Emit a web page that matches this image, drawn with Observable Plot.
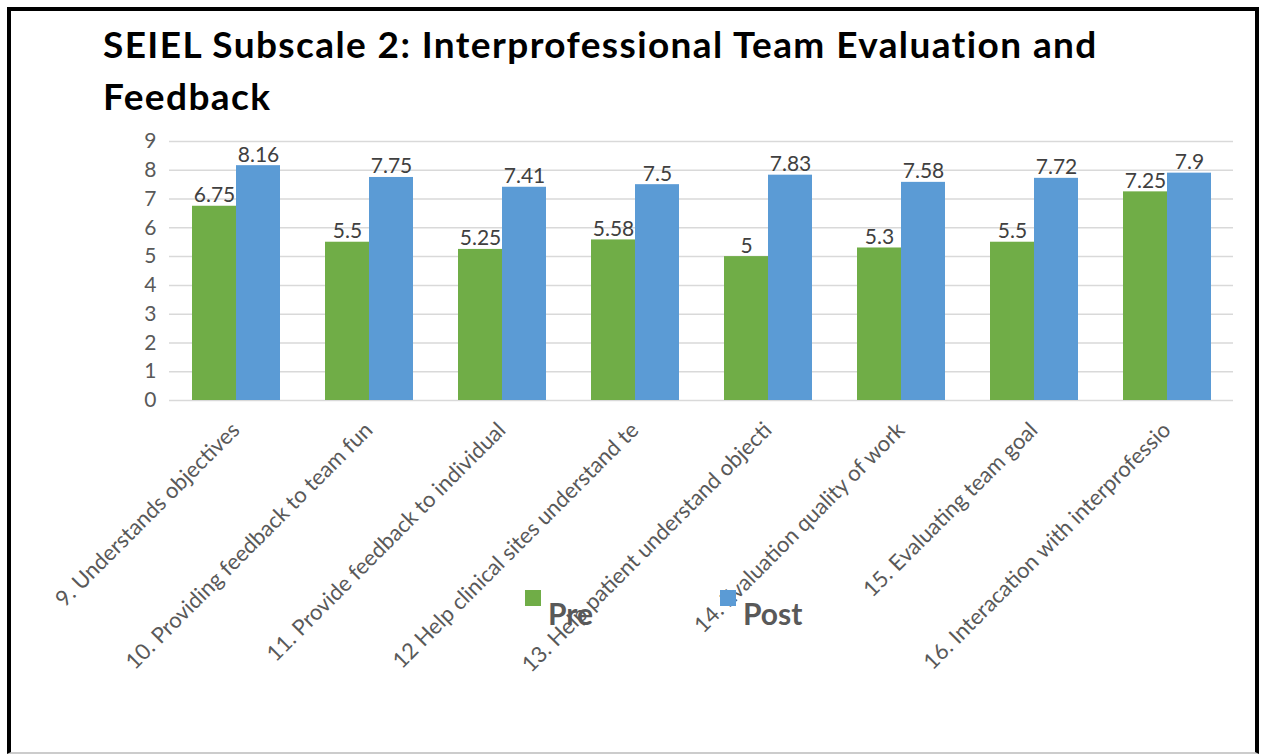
<!DOCTYPE html>
<html>
<head>
<meta charset="utf-8">
<script src="https://cdn.jsdelivr.net/npm/d3@7"></script>
<script src="https://cdn.jsdelivr.net/npm/@observablehq/plot@0.6"></script>
<style>
  html, body { margin: 0; padding: 0; background: #fff; }
  #frame { position: absolute; left: 7px; top: 7px; width: 1244px; height: 741px;
    border-left: 4px solid #000; border-top: 4px solid #000; border-right: 4px solid #000; border-bottom: 2px solid #ccc; background: #fff; }
  #title { position: absolute; left: 103px; top: 18px; font-family: Lato, sans-serif; font-weight: bold;
    font-size: 37px; letter-spacing: 1.4px; line-height: 52px; color: #000; white-space: nowrap; }
  #chart { position: absolute; left: 0; top: 120px; }
  .leg { position: absolute; font-family: Lato, sans-serif; font-weight: bold; font-size: 30px; color: #595959; }
  .sw { position: absolute; width: 16px; height: 16px; }
</style>
</head>
<body>
<div id="frame"></div>
<div id="title">SEIEL Subscale 2: Interprofessional Team Evaluation and<br>Feedback</div>
<div id="chart"></div>
<div class="sw" style="left:525px; top:590px; background:#70AD47"></div>
<div class="leg" style="left:548px; top:595px;">Pre</div>
<div class="sw" style="left:720px; top:590px; background:#5B9BD5"></div>
<div class="leg" style="left:743px; top:595px;">Post</div>
<script>
const categories = [
  "9. Understands objectives",
  "10. Providing feedback to team fun",
  "11. Provide feedback to individual",
  "12 Help clinical sites understand te",
  "13. Help patient understand objecti",
  "14. Evaluation quality of work",
  "15. Evaluating team goal",
  "16. Interacation with interprofessio"
];
const series = ["Pre", "Post"];
const preValues = [6.75, 5.5, 5.25, 5.58, 5, 5.3, 5.5, 7.25];
const postValues = [8.16, 7.75, 7.41, 7.5, 7.83, 7.58, 7.72, 7.9];
const yTicks = [0, 1, 2, 3, 4, 5, 6, 7, 8, 9];
const colors = ["#70AD47", "#5B9BD5"];

const data = categories.flatMap((c, i) => [
  {cat: c, series: "Pre", value: preValues[i]},
  {cat: c, series: "Post", value: postValues[i]}
]);

const chart = Plot.plot({
  width: 1261,
  height: 630,
  marginLeft: 168,
  marginRight: 27,
  marginTop: 21,
  marginBottom: 350,
  style: {fontFamily: "Lato, sans-serif", fontSize: "21px", color: "#595959", background: "transparent"},
  fx: {domain: categories, paddingInner: 0.33, paddingOuter: 0.165, label: null, axis: null},
  x: {domain: series, axis: null, padding: 0},
  y: {domain: [0, 9], ticks: yTicks, label: null, axis: null},
  color: {domain: series, range: colors},
  marks: [
    Plot.ruleY(yTicks, {stroke: "#d9d9d9", strokeWidth: 1.5, insetLeft: -22, insetRight: -22}),
    Plot.barY(data, {fx: "cat", x: "series", y: "value", fill: "series"}),
    Plot.text(data, {fx: "cat", x: "series", y: "value", text: d => String(d.value), lineAnchor: "bottom", dy: -4, fill: "#404040", fontSize: 21}),
    Plot.axisY({ticks: yTicks, tickSize: 0, tickPadding: 35, fill: "#595959", fontSize: 21, label: null}),
    Plot.axisFx({anchor: "bottom", tickRotate: -45, tickSize: 0, tickPadding: 26, dx: 0, fill: "#595959", fontSize: 22, letterSpacing: "1px", label: null})
  ]
});
document.getElementById("chart").appendChild(chart);
</script>
</body>
</html>
